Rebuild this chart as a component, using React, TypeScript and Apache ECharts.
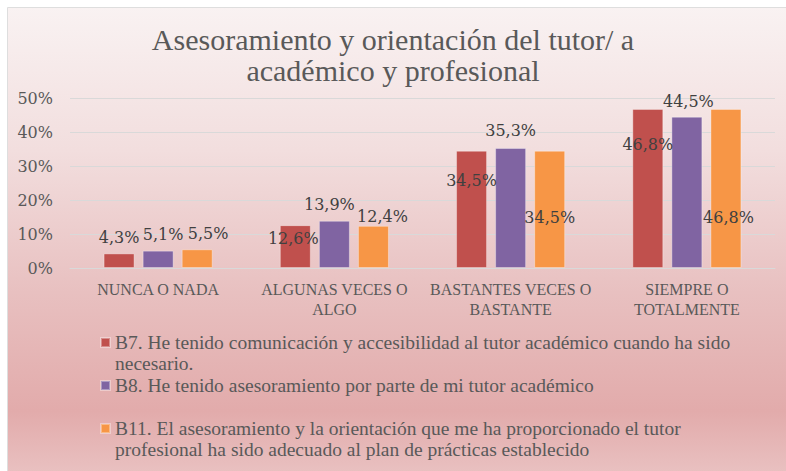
import React, { useEffect, useRef } from 'react';
import * as echarts from 'echarts';

const titleText = 'Asesoramiento y orientación del tutor/ a\nacadémico y profesional';
const categories = ['NUNCA O NADA', 'ALGUNAS VECES O\nALGO', 'BASTANTES VECES O\nBASTANTE', 'SIEMPRE O\nTOTALMENTE'];
const seriesNames = [
  'B7. He tenido comunicación y accesibilidad al tutor académico cuando ha sido\nnecesario.',
  'B8. He tenido asesoramiento por parte de mi tutor académico',
  'B11. El asesoramiento y la orientación que me ha proporcionado el tutor\nprofesional ha sido adecuado al plan de prácticas establecido',
];
const b7 = [4.3, 12.6, 34.5, 46.8];
const b8 = [5.1, 13.9, 35.3, 44.5];
const b11 = [5.5, 12.4, 34.5, 46.8];
const yMax = 50;
const yInterval = 10;

const colors = ['#c0504d', '#8064a2', '#f79646'];

// label placement (style only)
type LP = { position: string; distance?: number; offset?: number[] };
const labelPlacement: LP[][] = [
  [
    { position: 'top', distance: 8 },
    { position: 'insideTop', distance: 5, offset: [-2, 0] },
    { position: 'insideTop', distance: 5, offset: [0, 17] },
    { position: 'insideTop', distance: 5, offset: [0, 23] },
  ],
  [
    { position: 'top', distance: 8, offset: [5, 0] },
    { position: 'top', distance: 8, offset: [-5, 0] },
    { position: 'top', distance: 9 },
    { position: 'top', distance: 7, offset: [1.5, 0] },
  ],
  [
    { position: 'top', distance: 8, offset: [11, 0] },
    { position: 'top', distance: 1, offset: [9, 0] },
    { position: 'insideTop', distance: 5, offset: [0, 54] },
    { position: 'insideTop', distance: 5, offset: [2.5, 96] },
  ],
];

const SERIF = '"Liberation Serif", serif';
const NUM = '"DejaVu Serif", serif';
const TXT = '#595959';

export default function App() {
  const ref = useRef<HTMLDivElement>(null);
  useEffect(() => {
    if (!ref.current) return;
    const chart = echarts.init(ref.current, null, { renderer: 'svg' });
    const allValues = [b7, b8, b11];
    const fmt = (v: number) => v.toFixed(1).replace('.', ',') + '%';
    chart.setOption({
      animation: false,
      graphic: [
        {
          type: 'rect',
          z: -10,
          silent: true,
          shape: { x: 7.5, y: 7.5, width: 790, height: 475 },
          style: {
            fill: new echarts.graphic.LinearGradient(0, 0, 0, 1, [
              { offset: 0, color: '#f9f2f2' },
              { offset: 0.3, color: '#f2dede' },
              { offset: 0.6, color: '#e8c0c0' },
              { offset: 0.85, color: '#e2abab' },
              { offset: 1, color: '#eac4c4' },
            ]),
            stroke: '#dedede',
            lineWidth: 1,
          },
        },
      ],
      title: {
        text: titleText,
        left: 'center',
        top: 19,
        textStyle: {
          fontFamily: SERIF,
          fontSize: 30,
          lineHeight: 31,
          fontWeight: 'normal',
          color: TXT,
        },
      },
      legend: {
        orient: 'vertical',
        left: 100,
        top: 311,
        padding: 0,
        itemWidth: 9,
        itemHeight: 9,
        itemGap: 1,
        icon: 'rect',
        selectedMode: false,
        formatter: (name: string) => (name.indexOf('\n') >= 0 ? '\n' + name : name),
        textStyle: {
          fontFamily: SERIF,
          fontSize: 19.5,
          lineHeight: 21,
          color: TXT,
        },
      },
      grid: { left: 70, right: 11, top: 98, bottom: 203, outerBoundsMode: 'none' },
      xAxis: {
        type: 'category',
        data: categories,
        axisTick: { show: false },
        axisLine: { lineStyle: { color: '#d9d9d9', width: 1 } },
        axisLabel: {
          interval: 0,
          fontFamily: SERIF,
          fontSize: 16,
          lineHeight: 20,
          margin: 11,
          color: TXT,
        },
      },
      yAxis: {
        type: 'value',
        min: 0,
        max: yMax,
        interval: yInterval,
        axisLine: { show: false },
        axisTick: { show: false },
        splitLine: { lineStyle: { color: '#d9d9d9', width: 1 } },
        axisLabel: {
          formatter: '{value}%',
          fontFamily: NUM,
          fontSize: 16,
          margin: 17,
          color: TXT,
        },
      },
      series: allValues.map((vals, si) => ({
        type: 'bar',
        name: seriesNames[si],
        barWidth: 31,
        barGap: '26%',
        itemStyle: { color: colors[si], borderColor: 'rgba(255,255,255,0.35)', borderWidth: 1 },
        label: {
          show: true,
          fontFamily: NUM,
          fontSize: 16,
          color: '#404040',
          formatter: (p: any) => fmt(p.value),
        },
        data: vals.map((v, i) => ({
          value: v,
          label: {
            position: labelPlacement[si][i].position,
            distance: labelPlacement[si][i].distance,
            offset: labelPlacement[si][i].offset || [0, 0],
          },
        })),
      })),
    });
    return () => chart.dispose();
  }, []);
  return (
    <div style={{ position: 'absolute', left: 0, top: 0, width: 786, height: 471 }}>
      <div ref={ref} style={{ width: 786, height: 471 }} />
    </div>
  );
}
